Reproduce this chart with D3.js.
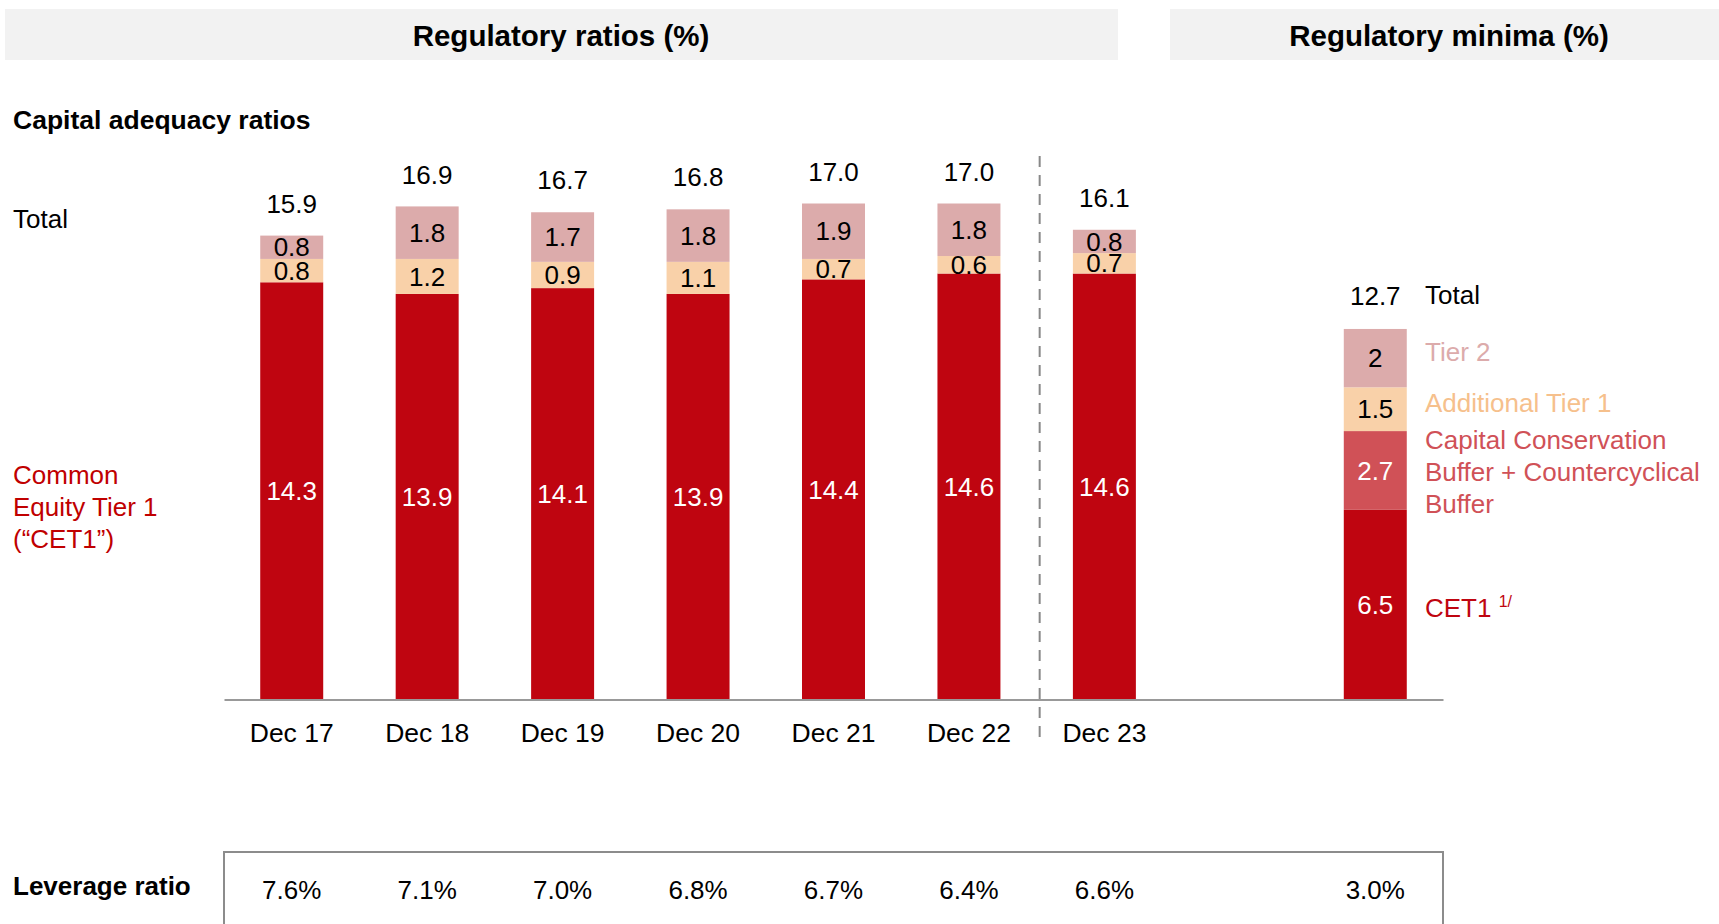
<!DOCTYPE html>
<html>
<head>
<meta charset="utf-8">
<script src="https://cdn.jsdelivr.net/npm/d3@7"></script>
<style>
  body { margin: 0; background: #fff; }
  svg { display: block; font-family: "Liberation Sans", Arial, sans-serif; }
</style>
</head>
<body>
<div class="chart"></div>
<script>
// data
var categories = ["Dec 17", "Dec 18", "Dec 19", "Dec 20", "Dec 21", "Dec 22", "Dec 23"];
var cet1 = [14.3, 13.9, 14.1, 13.9, 14.4, 14.6, 14.6];
var at1 = [0.8, 1.2, 0.9, 1.1, 0.7, 0.6, 0.7];
var tier2 = [0.8, 1.8, 1.7, 1.8, 1.9, 1.8, 0.8];
var totals = [15.9, 16.9, 16.7, 16.8, 17.0, 17.0, 16.1];
var leverage = ["7.6%", "7.1%", "7.0%", "6.8%", "6.7%", "6.4%", "6.6%"];

var minimaParts = ["CET1", "Buffer", "AT1", "Tier 2"];
var minimaValues = [6.5, 2.7, 1.5, 2];
var minimaLabels = ["6.5", "2.7", "1.5", "2"];
var minimaTotal = 12.7;
var minimaLeverage = "3.0%";

var svgWidth = 1719, svgHeight = 924;
var red = "#bf0510", peach = "#f9d1a9", pink = "#dcabab", buffer = "#d05157";

var svg = d3.select(".chart").append("svg")
  .attr("width", svgWidth)
  .attr("height", svgHeight);

// header boxes
svg.append("rect").attr("x", 5).attr("y", 9).attr("width", 1113).attr("height", 51).attr("fill", "#f2f2f2");
svg.append("rect").attr("x", 1170).attr("y", 9).attr("width", 549).attr("height", 51).attr("fill", "#f2f2f2");
svg.append("text").attr("x", 561).attr("y", 36).attr("dy", "0.35em")
  .attr("text-anchor", "middle").attr("font-size", 29.5).attr("font-weight", "bold")
  .text("Regulatory ratios (%)");
svg.append("text").attr("x", 1449).attr("y", 36).attr("dy", "0.35em")
  .attr("text-anchor", "middle").attr("font-size", 29.5).attr("font-weight", "bold")
  .text("Regulatory minima (%)");

svg.append("text").attr("x", 13).attr("y", 120).attr("dy", "0.35em")
  .attr("font-size", 26.5).attr("font-weight", "bold").text("Capital adequacy ratios");
svg.append("text").attr("x", 13).attr("y", 219).attr("dy", "0.35em")
  .attr("font-size", 26).text("Total");
svg.append("text").attr("x", 13).attr("y", 475).attr("font-size", 26).attr("fill", "#c00000")
  .selectAll("tspan").data(["Common", "Equity Tier 1", "(\u201CCET1\u201D)"]).enter()
  .append("tspan").attr("x", 13).attr("dy", (d, i) => i === 0 ? "0.35em" : 32).text(d => d);

// scales: one empty slot between Dec 23 and the minima bar
var slots = categories.concat(["gap", "Minima"]);
var x = d3.scaleBand().domain(slots).range([224, 1443]).paddingInner(0.535).paddingOuter(0.2675);
var y = d3.scaleLinear().domain([0, 17]).range([699.5, 203.5]);

// stacked bars
var rows = categories.map(function(c, i) {
  return { cat: c, cet1: cet1[i], at1: at1[i], tier2: tier2[i], total: totals[i] };
});
var stack = d3.stack().keys(["cet1", "at1", "tier2"])(rows);
var colors = { cet1: red, at1: peach, tier2: pink };

var layers = svg.selectAll(".layer").data(stack).enter().append("g").attr("class", "layer");
layers.selectAll("rect").data(d => d.map(p => ({ key: d.key, p: p }))).enter()
  .append("rect")
  .attr("x", d => x(d.p.data.cat))
  .attr("y", d => y(d.p[1]))
  .attr("width", x.bandwidth())
  .attr("height", d => y(d.p[0]) - y(d.p[1]))
  .attr("fill", d => colors[d.key]);
layers.selectAll("text").data(d => d.map(p => ({ key: d.key, p: p }))).enter()
  .append("text")
  .attr("x", d => x(d.p.data.cat) + x.bandwidth() / 2)
  .attr("y", d => (y(d.p[0]) + y(d.p[1])) / 2)
  .attr("dy", "0.35em")
  .attr("text-anchor", "middle")
  .attr("font-size", 26)
  .attr("fill", d => d.key === "cet1" ? "#fff" : "#000")
  .text(d => d.p.data[d.key].toFixed(1));

svg.selectAll(".total").data(rows).enter().append("text")
  .attr("x", d => x(d.cat) + x.bandwidth() / 2)
  .attr("y", d => y(d.total) - 32)
  .attr("dy", "0.35em")
  .attr("text-anchor", "middle")
  .attr("font-size", 26)
  .text(d => d.total.toFixed(1));

// minima bar
var minColors = [red, buffer, peach, pink];
var minStack = [];
var acc = 0;
minimaValues.forEach(function(v, i) {
  minStack.push({ y0: acc, y1: acc + v, label: minimaLabels[i], color: minColors[i], part: minimaParts[i] });
  acc += v;
});
svg.selectAll(".minbar").data(minStack).enter().append("rect")
  .attr("x", x("Minima"))
  .attr("y", d => y(d.y1))
  .attr("width", x.bandwidth())
  .attr("height", d => y(d.y0) - y(d.y1))
  .attr("fill", d => d.color);
svg.selectAll(".minlabel").data(minStack).enter().append("text")
  .attr("x", x("Minima") + x.bandwidth() / 2)
  .attr("y", d => (y(d.y0) + y(d.y1)) / 2)
  .attr("dy", "0.35em")
  .attr("text-anchor", "middle")
  .attr("font-size", 26)
  .attr("fill", d => (d.part === "CET1" || d.part === "Buffer") ? "#fff" : "#000")
  .text(d => d.label);
svg.append("text")
  .attr("x", x("Minima") + x.bandwidth() / 2)
  .attr("y", y(minimaTotal) - 33)
  .attr("dy", "0.35em").attr("text-anchor", "middle").attr("font-size", 26)
  .text(minimaTotal.toFixed(1));

// right-hand legend
var lx = 1425;
svg.append("text").attr("x", lx).attr("y", 295).attr("dy", "0.35em").attr("font-size", 26).text("Total");
svg.append("text").attr("x", lx).attr("y", 352).attr("dy", "0.35em").attr("font-size", 26).attr("fill", pink).text("Tier 2");
svg.append("text").attr("x", lx).attr("y", 403).attr("dy", "0.35em").attr("font-size", 26).attr("fill", "#f6c08c").text("Additional Tier 1");
svg.append("text").attr("x", lx).attr("y", 440).attr("font-size", 26).attr("fill", buffer)
  .selectAll("tspan").data(["Capital Conservation", "Buffer + Countercyclical", "Buffer"]).enter()
  .append("tspan").attr("x", lx).attr("dy", (d, i) => i === 0 ? "0.35em" : 32).text(d => d);
var cetLbl = svg.append("text").attr("x", lx).attr("y", 608).attr("dy", "0.35em").attr("font-size", 26).attr("fill", red);
cetLbl.append("tspan").text("CET1 ");
cetLbl.append("tspan").attr("font-size", 16).attr("dy", -10).text("1/");

// axis baseline and category labels
var xAxis = d3.axisBottom(x).tickSize(0).tickPadding(24).tickFormat(d => categories.indexOf(d) >= 0 ? d : "");
var axisG = svg.append("g").attr("transform", "translate(0,699.5)").call(xAxis);
axisG.select(".domain").attr("stroke", "#999").attr("stroke-width", 2);
axisG.selectAll("text").attr("font-size", 26.5).attr("font-family", "Liberation Sans, Arial, sans-serif").attr("fill", "#000");

// dashed separator
var sepX = (x("Dec 22") + x.bandwidth() + x("Dec 23")) / 2 + 3;
svg.append("line").attr("x1", sepX).attr("x2", sepX).attr("y1", 156).attr("y2", 743)
  .attr("stroke", "#888").attr("stroke-width", 2).attr("stroke-dasharray", "11,8");

// leverage ratio row
svg.append("path")
  .attr("d", "M224,924 V852 H1443 V924")
  .attr("fill", "none").attr("stroke", "#8c8c8c").attr("stroke-width", 2);
svg.append("text").attr("x", 13).attr("y", 886).attr("dy", "0.35em")
  .attr("font-size", 26).attr("font-weight", "bold").text("Leverage ratio");
svg.selectAll(".lev").data(categories.map((c, i) => ({ cat: c, v: leverage[i] })).concat([{ cat: "Minima", v: minimaLeverage }]))
  .enter().append("text")
  .attr("x", d => x(d.cat) + x.bandwidth() / 2)
  .attr("y", 890).attr("dy", "0.35em")
  .attr("text-anchor", "middle").attr("font-size", 26)
  .text(d => d.v);
</script>
</body>
</html>
